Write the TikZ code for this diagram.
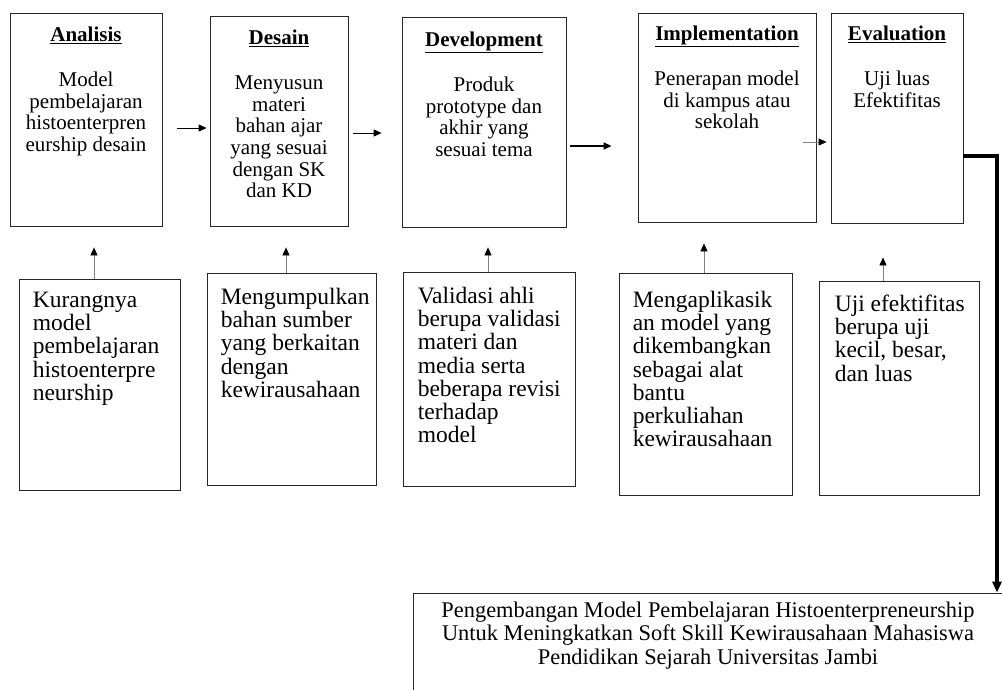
\documentclass[tikz,border=0pt]{standalone}
\usepackage{fontspec}
\setmainfont{Liberation Serif}
\usetikzlibrary{arrows.meta,positioning}

\tikzset{
  stage/.style={draw=black!85, line width=0.8pt, inner sep=0pt},
  headtext/.style={inner sep=0pt, align=center, font=\fontsize{21}{21.7}\selectfont},
  notetext/.style={inner sep=0pt, align=left, font=\fontsize{23.5}{23.3}\selectfont},
  fwd/.style={-{Triangle[length=8pt,width=7pt]}, line width=0.8pt},
  upfwd/.style={-{Triangle[length=8pt,width=7pt,color=black]}, draw=black!50, line width=0.8pt},
  finline/.style={-{Triangle[length=11pt,width=9pt]}, line width=3.2pt},
}

\begin{document}
\begin{tikzpicture}[x=1pt,y=-1pt]
        \useasboundingbox (0,0) rectangle (1002,689);

        % top row
        \node[stage, minimum width=152pt, minimum height=213pt] (ana) at (86,119.5) {};
        \node[stage, minimum width=138pt, minimum height=210pt] (des) at (279,121) {};
        \node[stage, minimum width=164pt, minimum height=210pt] (dev) at (484,122) {};
        \node[stage, minimum width=178pt, minimum height=209pt] (imp) at (727,117.5) {};
        \node[stage, minimum width=132pt, minimum height=210pt] (eva) at (897,118) {};

        \node[headtext, below=14pt of ana.north] (anatext) {\textbf{\underline{Analisis}}\\[23.3pt]Model\\pembelajaran\\histoenterpren\\eurship desain};
        \node[headtext, below=14pt of des.north] (destext) {\textbf{\underline{Desain}}\\[23.3pt]Menyusun\\materi\\bahan ajar\\yang sesuai\\dengan SK\\dan KD};
        \node[headtext, below=15pt of dev.north] (devtext) {\textbf{\underline{Development}}\\[23.3pt]Produk\\prototype dan\\akhir yang\\sesuai tema};
        \node[headtext, below=13pt of imp.north] (imptext) {\textbf{\underline{Implementation}}\\[23.3pt]Penerapan model\\di kampus atau\\sekolah};
        \node[headtext, below=13pt of eva.north] (evatext) {\textbf{\underline{Evaluation}}\\[23.3pt]Uji luas\\Efektifitas};

        % bottom row
        \node[stage, minimum width=161pt, minimum height=211pt] (kur) at (99.5,384.5) {};
        \node[stage, minimum width=169pt, minimum height=212pt] (kum) at (291.5,379) {};
        \node[stage, minimum width=172pt, minimum height=214pt] (val) at (489,379) {};
        \node[stage, minimum width=173pt, minimum height=222pt] (apl) at (705.5,384) {};
        \node[stage, minimum width=160pt, minimum height=214pt] (uji) at (899,388) {};

        \node[notetext, below right=13pt and 14pt of kur.north west] (kurtext) {Kurangnya\\model\\pembelajaran\\histoenterpre\\neurship};
        \node[notetext, below right=15pt and 14pt of kum.north west] (kumtext) {Mengumpulkan\\bahan sumber\\yang berkaitan\\dengan\\kewirausahaan};
        \node[notetext, below right=15pt and 15pt of val.north west] (valtext) {Validasi ahli\\berupa validasi\\materi dan\\media serta\\beberapa revisi\\terhadap\\model};
        \node[notetext, below right=18pt and 14pt of apl.north west] (apltext) {Mengaplikasik\\an model yang\\dikembangkan\\sebagai alat\\bantu\\perkuliahan\\kewirausahaan};
        \node[notetext, below right=14pt and 16pt of uji.north west] (ujitext) {Uji efektifitas\\berupa uji\\kecil, besar,\\dan luas};

        % final box
        \node[stage, minimum width=590pt, minimum height=130pt] (fin) at (708,658) {};
        \node[headtext, font=\fontsize{22.4}{23.5}\selectfont, below=9pt of fin.north] (fintext) {Pengembangan Model Pembelajaran Histoenterpreneurship\\Untuk Meningkatkan Soft Skill Kewirausahaan Mahasiswa\\Pendidikan Sejarah Universitas Jambi};

        % flow along the top
        \coordinate (lvl1) at (0,128);
        \coordinate (lvl2) at (0,133);
        \coordinate (lvl3) at (0,146);
        \coordinate (lvl4) at (0,142);
        \draw[fwd, shorten <=15pt, shorten >=3pt] (ana.east |- lvl1) -- (des.west |- lvl1);
        \draw[fwd, shorten <=5pt, shorten >=20pt] (des.east |- lvl2) -- (dev.west |- lvl2);
        \draw[fwd, line width=1.4pt, shorten <=4pt, shorten >=26pt] (dev.east |- lvl3) -- (imp.west |- lvl3);
        \draw[upfwd, shorten <=-13pt, shorten >=4pt] (imp.east |- lvl4) -- (eva.west |- lvl4);

        \foreach \from/\to/\dx/\gap in {kur/ana/-5.5/21,kum/des/-5.5/21,val/dev/-1/20,apl/imp/-1.5/21,uji/eva/-16/34}
        \draw[upfwd, shorten >=\gap pt] ([xshift=\dx pt]\from.north) -- ([xshift=\dx pt]\from.north |- \to.south);

        % to the result
        \coordinate (bend) at (997,156);
        \draw[finline] (eva.east |- bend) -| (bend |- fin.north);
\end{tikzpicture}
\end{document}
